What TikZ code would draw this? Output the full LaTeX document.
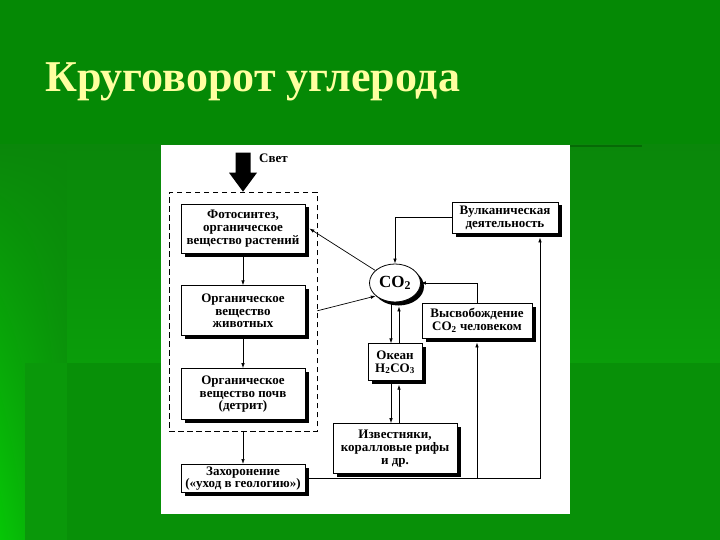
\documentclass[tikz,border=0pt]{standalone}
\usepackage{fontspec}
\setmainfont{Liberation Serif}
\usetikzlibrary{
  arrows.meta,
  calc,
  fit,
  positioning,
  shadings,
  shadows,
  shapes.geometric
}
\definecolor{slideTop}{HTML}{058905}
\definecolor{slideMid}{HTML}{0A870A}
\definecolor{slideLow}{HTML}{0A9D0A}
\definecolor{slideBase}{HTML}{089008}
\definecolor{slidePanel}{HTML}{0A980A}
\definecolor{slideBright}{HTML}{06C606}
\definecolor{slideEdge}{HTML}{066A06}
\definecolor{titleFill}{HTML}{FFFFA0}
\newcommand{\boxfont}{\fontsize{13}{12.8}\selectfont\bfseries}
\newcommand{\chemsub}[1]{\textsubscript{#1}}
\tikzset{
  block/.style={
    draw=black,
    fill=white,
    line width=0.8pt,
    align=center,
    font=\boxfont,
    inner sep=2pt,
    drop shadow={fill=black, opacity=1, shadow xshift=3.5pt, shadow yshift=-3.5pt}
  },
  gas/.style={block, ellipse, inner sep=0pt, font=\fontsize{17}{17}\selectfont\bfseries},
  flow/.style={-{Latex[length=5pt, width=3.5pt]}, line width=0.7pt, draw=black},
  zonebox/.style={draw=black, dash pattern=on 5.5pt off 3.5pt, line width=0.8pt,
    inner xsep=11.5pt, inner ysep=11.5pt},
  note/.style={font=\boxfont, inner sep=0pt},
  headline/.style={font=\fontsize{44}{50}\selectfont\bfseries, text=titleFill, inner sep=0pt}
}

\begin{document}
\begin{tikzpicture}[x=1pt, y=-1pt]

% --- Slide backdrop ---
\useasboundingbox (0,0) rectangle (720,540);
\fill[slideTop] (0,0) rectangle (720,145);
\shade[upper left=slideMid, upper right=slideMid, lower left=slideBright, lower right=slideLow]
  (0,145) rectangle (67,540);
\fill[slidePanel] (25,363) rectangle (67,540);
\shade[top color=slideMid, bottom color=slideLow] (67,145) rectangle (720,363);
\fill[slideBase] (67,363) rectangle (720,540);
\draw[slideEdge, line width=2pt] (570,146) -- (642,146);
\fill[white] (161,145) rectangle (570,514);

\node[headline, anchor=base west] (title) at (45,92) {Круговорот углерода};

% --- Living matter column ---
\node[block, minimum width=124pt, minimum height=49pt] (photo) at (243,228.5)
  {Фотосинтез,\\органическое\\вещество растений};
\node[block, minimum width=124pt, minimum height=50pt, below=32pt of photo] (animal)
  {Органическое\\вещество\\животных};
\node[block, minimum width=124pt, minimum height=51pt, below=32pt of animal] (soil)
  {Органическое\\вещество почв\\(детрит)};
\node[block, minimum width=124pt, minimum height=28pt, below=44pt of soil] (burial)
  {Захоронение\\(«уход в геологию»)};

\node[zonebox, fit=(photo)(animal)(soil)] (zone) {};

\node[note, anchor=west] (lightlabel) at (259,158) {Свет};
\fill[black] ($(zone.north)+(-7.5,-39)$) -- ++(15,0) -- ++(0,20) -- ++(6.5,0)
  -- (zone.north) -- ++(-14,-19) -- ++(6.5,0) -- cycle;

% --- Carbon dioxide and its sinks ---
\node[gas, minimum width=51pt, minimum height=38pt] (co2) at (395,283) {CO\chemsub{2}};
\node[block, minimum width=54pt, minimum height=37pt, below=41pt of co2] (ocean)
  {Океан\\H\chemsub{2}CO\chemsub{3}};
\node[block, minimum width=124pt, minimum height=50pt, below=42pt of ocean] (lime)
  {Известняки,\\коралловые рифы\\и др.};
\node[block, minimum width=110pt, minimum height=35pt] (human) at (477,320.5)
  {Высвобождение\\CO\chemsub{2} человеком};
\node[block, minimum width=106pt, minimum height=31pt] (volc) at (505,217.5)
  {Вулканическая\\деятельность};

% --- Flows ---
\draw[flow] (photo) -- (animal);
\draw[flow] (animal) -- (soil);
\draw[flow] (zone) -- (burial);
\draw[flow] (co2) -- ([xshift=4pt]photo.east);
\draw[flow] (animal -| zone.east) -- (co2.214);
\draw[flow] (volc.west) -| (co2);
\draw[flow] (human) |- (co2);
\draw[flow] ([xshift=-4pt]co2.south) -- ([xshift=-4pt]ocean.north);
\draw[flow] ([xshift=4pt]ocean.north) -- ([xshift=4pt, yshift=-4pt]co2.south);
\draw[flow] ([xshift=-4pt]ocean.south) -- ([xshift=-4pt]lime.north);
\draw[flow] ([xshift=4pt]lime.north) -- ([xshift=4pt, yshift=-3.5pt]ocean.south);
\draw[flow] (burial.east) -| ([xshift=35pt, yshift=-4pt]volc.south);
\draw[flow] (burial.east -| human.south) -- ([yshift=-4pt]human.south);

\end{tikzpicture}
\end{document}
